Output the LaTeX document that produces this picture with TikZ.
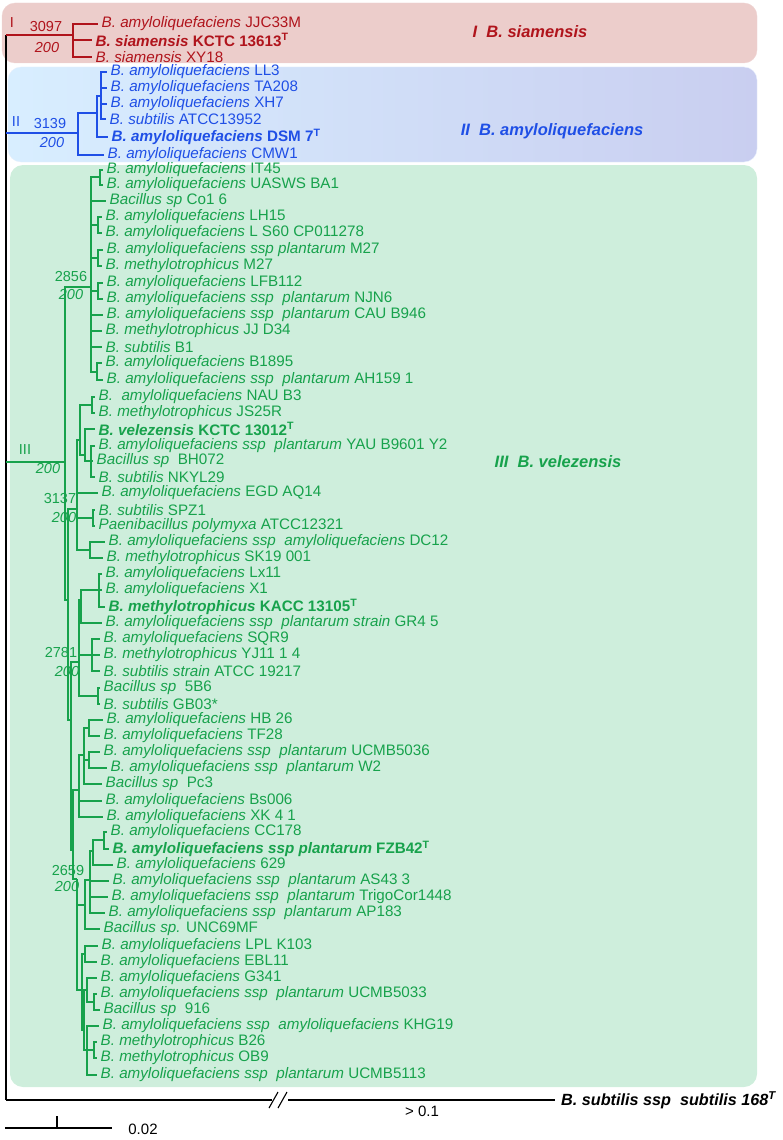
\documentclass[tikz,border=0pt]{standalone}
\usepackage{fontspec}
\setmainfont{Liberation Sans}
\definecolor{cR}{HTML}{B0141C}
\definecolor{cB}{HTML}{1F4FE6}
\definecolor{cG}{HTML}{17A24C}
\definecolor{fR}{HTML}{ECCDCB}
\definecolor{fG}{HTML}{CEEEDC}
\definecolor{fB1}{HTML}{D8EEFF}
\definecolor{fB2}{HTML}{C9CEF0}
\newcommand\dsp{\hspace{0.28em}}
\tikzset{
  lf/.style={anchor=west, inner xsep=3.5pt, inner ysep=0pt, font=\fontsize{15.2}{16}\selectfont},
  lr/.style={lf, text=cR}, lb/.style={lf, text=cB}, lgn/.style={lf, text=cG},
  er/.style={draw=cR, line width=1.3pt}, eb/.style={draw=cB, line width=1.3pt},
  eg/.style={draw=cG, line width=1.3pt}, ek/.style={draw=black, line width=1.3pt},
  bs/.style={inner sep=0pt, font=\fontsize{14.5}{15}\selectfont},
  gt/.style={inner sep=0pt, font=\fontsize{16.5}{18}\selectfont\bfseries\itshape},
}
\begin{document}
\begin{tikzpicture}[x=1pt,y=-1pt]
\useasboundingbox (0,0) rectangle (782,1140);
% boxes
\fill[fR, draw=fR!85!white, rounded corners=13pt] (2,3) rectangle (757,63);
\shade[left color=fB1, right color=fB2, rounded corners=13pt] (8,67) rectangle (757,162);
\draw[fB1!70!cB!25, rounded corners=13pt] (8,67) rectangle (757,162);
\fill[fG, rounded corners=13pt] (10,165) rectangle (757,1087);
% group titles
\node[gt, text=cR] (tI) at (530,32) {I\dsp\ B. siamensis};
\node[gt, text=cB] (tII) at (552,131) {II\dsp\ B. amyloliquefaciens};
\node[gt, text=cG] (tIII) at (558,462) {III\dsp\ B. velezensis};
% root
\coordinate (rt) at (6,35);
\coordinate (rb) at (6,1100);
\coordinate (r2) at (6,133);
\coordinate (r3) at (6,462);
\draw[ek] (rt) -- (rb);
% ---------- Group I
\coordinate (nI) at (73,35);
\node[lr] (r1) at (98,24) {\textit{B. amyloliquefaciens} JJC33M};
\node[lr] (r2l) at (92,40) {\textbf{\textit{B. siamensis} KCTC 13613\textsuperscript{T}}};
\node[lr] (r3l) at (92,57) {\textit{B. siamensis} XY18};
\draw[er] (rt) -- (nI);
\draw[er] (nI) |- (r1.west);
\draw[er] (nI) |- (r2l.west);
\draw[er] (nI) |- (r3l.west);
\node[bs, text=cR] (lI) at (12,23) {I};
\node[bs, text=cR] (bI1) at (46,27) {3097};
\node[bs, text=cR] (bI2) at (47,48) {\textit{200}};
% ---------- Group II
\coordinate (nII) at (78,133);
\coordinate (nII2) at (97,113);
\coordinate (nII3) at (101,96);
\node[lb] (b1) at (107,72) {\textit{B. amyloliquefaciens} LL3};
\node[lb] (b2) at (107,88) {\textit{B. amyloliquefaciens} TA208};
\node[lb] (b3) at (107,104) {\textit{B. amyloliquefaciens} XH7};
\node[lb] (b4) at (106,119) {\textit{B. subtilis} ATCC13952};
\node[lb] (b5) at (108,137) {\textbf{\textit{B. amyloliquefaciens} DSM 7\textsuperscript{T}}};
\node[lb] (b6) at (104,155) {\textit{B. amyloliquefaciens} CMW1};
\draw[eb] (r2) -- (nII);
\draw[eb] (nII) |- (nII2);
\draw[eb] (nII) |- (b6.west);
\draw[eb] (nII2) |- (nII3);
\draw[eb] (nII2) |- (b5.west);
\foreach \n in {b1,b2,b3,b4} \draw[eb] (nII3) |- (\n.west);
\node[bs, text=cB] (lII) at (16,122) {II};
\node[bs, text=cB] (bII1) at (50,124) {3139};
\node[bs, text=cB] (bII2) at (52,143) {\textit{200}};
% ---------- Group III
\coordinate (nIII) at (65,462);
\coordinate (nB) at (68,600);
\coordinate (nC) at (71,720);
\coordinate (nD) at (73,850);
\coordinate (c2856) at (91,287);
\coordinate (c3137) at (77,509);
\coordinate (c2781) at (79,662);
\coordinate (cHB) at (79,790);
\coordinate (c2659) at (77,879);
\draw[eg] (r3) -- (nIII);
\draw[eg] (nIII) |- (c2856);
\draw[eg] (nIII) |- (nB);
\draw[eg] (nB) |- (c3137);
\draw[eg] (nB) |- (nC);
\draw[eg] (nC) |- (c2781);
\draw[eg] (nC) |- (nD);
\draw[eg] (nD) |- (cHB);
\draw[eg] (nD) |- (c2659);
\node[bs, text=cG] (lIII) at (25,450) {III};
\node[bs, text=cG] (bIII) at (48,469) {\textit{200}};
\node[bs, text=cG] (k1a) at (71,277) {2856};
\node[bs, text=cG] (k1b) at (71,295) {\textit{200}};
\node[bs, text=cG] (k2a) at (60,499) {3137};
\node[bs, text=cG] (k2b) at (64,518) {\textit{200}};
\node[bs, text=cG] (k3a) at (61,653) {2781};
\node[bs, text=cG] (k3b) at (67,671) {\textit{200}};
\node[bs, text=cG] (k4a) at (68,870) {2659};
\node[bs, text=cG] (k4b) at (67,886) {\textit{200}};
% clade 2856
\coordinate (p1) at (100,177);
\coordinate (p2) at (98,225);
\coordinate (p3) at (98,258);
\coordinate (p4) at (98,291);
\coordinate (p5) at (97,372);
\node[lgn] (g10) at (103,170) {\textit{B. amyloliquefaciens} IT45};
\node[lgn] (g11) at (103,185) {\textit{B. amyloliquefaciens} UASWS BA1};
\node[lgn] (g12) at (106,201) {\textit{Bacillus sp} Co1 6};
\node[lgn] (g13) at (102,217) {\textit{B. amyloliquefaciens} LH15};
\node[lgn] (g14) at (102,233) {\textit{B. amyloliquefaciens} L S60 CP011278};
\node[lgn] (g15) at (103,250) {\textit{B. amyloliquefaciens ssp plantarum} M27};
\node[lgn] (g16) at (102,266) {\textit{B. methylotrophicus} M27};
\node[lgn] (g17) at (103,283) {\textit{B. amyloliquefaciens} LFB112};
\node[lgn] (g18) at (103,299) {\textit{B. amyloliquefaciens ssp\dsp\ plantarum} NJN6};
\node[lgn] (g19) at (103,315) {\textit{B. amyloliquefaciens ssp\dsp\ plantarum} CAU B946};
\node[lgn] (g20) at (102,331) {\textit{B. methylotrophicus} JJ D34};
\node[lgn] (g21) at (102,347) {\textit{B. subtilis} B1};
\node[lgn] (g22) at (102,363) {\textit{B. amyloliquefaciens} B1895};
\node[lgn] (g23) at (103,380) {\textit{B. amyloliquefaciens ssp\dsp\ plantarum} AH159 1};
\foreach \c in {p1,p2,p3,p4,p5} \draw[eg] (c2856) |- (\c);
\foreach \n in {g12,g19,g20,g21} \draw[eg] (c2856) |- (\n.west);
\foreach \n in {g10,g11} \draw[eg] (p1) |- (\n.west);
\foreach \n in {g13,g14} \draw[eg] (p2) |- (\n.west);
\foreach \n in {g15,g16} \draw[eg] (p3) |- (\n.west);
\foreach \n in {g17,g18} \draw[eg] (p4) |- (\n.west);
\foreach \n in {g22,g23} \draw[eg] (p5) |- (\n.west);
% clade 3137
\coordinate (cV) at (80,440);
\coordinate (pNAU) at (92,405);
\coordinate (pVel) at (85,455);
\coordinate (pYAU) at (91,461);
\coordinate (pSPZ) at (93,518);
\coordinate (pDC) at (90,550);
\node[lgn] (g24) at (95,397) {\textit{B.\dsp\ amyloliquefaciens} NAU B3};
\node[lgn] (g25) at (95,413) {\textit{B. methylotrophicus} JS25R};
\node[lgn] (g26) at (95,429) {\textbf{\textit{B. velezensis} KCTC 13012\textsuperscript{T}}};
\node[lgn] (g27) at (95,446) {\textit{B. amyloliquefaciens ssp\dsp\ plantarum} YAU B9601 Y2};
\node[lgn] (g28) at (93,461) {\textit{Bacillus sp}\dsp\ BH072};
\node[lgn] (g29) at (95,477) {\textit{B. subtilis} NKYL29};
\node[lgn] (g30) at (98,493) {\textit{B. amyloliquefaciens} EGD AQ14};
\node[lgn] (g31) at (95,510) {\textit{B. subtilis} SPZ1};
\node[lgn] (g32) at (95,526) {\textit{Paenibacillus polymyxa} ATCC12321};
\node[lgn] (g33) at (105,542) {\textit{B. amyloliquefaciens ssp\dsp\ amyloliquefaciens} DC12};
\node[lgn] (g34) at (103,558) {\textit{B. methylotrophicus} SK19 001};
\draw[eg] (c3137) |- (cV);
\draw[eg] (c3137) |- (g30.west);
\draw[eg] (c3137) |- (pSPZ);
\draw[eg] (c3137) |- (pDC);
\draw[eg] (cV) |- (pNAU);
\draw[eg] (cV) |- (pVel);
\draw[eg] (pVel) |- (g26.west);
\draw[eg] (pVel) |- (pYAU);
\foreach \n in {g24,g25} \draw[eg] (pNAU) |- (\n.west);
\foreach \n in {g27,g28,g29} \draw[eg] (pYAU) |- (\n.west);
\foreach \n in {g31,g32} \draw[eg] (pSPZ) |- (\n.west);
\foreach \n in {g33,g34} \draw[eg] (pDC) |- (\n.west);
% clade 2781
\coordinate (pLx) at (81,600);
\coordinate (pLx2) at (99,590);
\coordinate (pSQR) at (92,655);
\coordinate (p5B6) at (98,696);
\node[lgn] (g35) at (102,574) {\textit{B. amyloliquefaciens} Lx11};
\node[lgn] (g36) at (102,590) {\textit{B. amyloliquefaciens} X1};
\node[lgn] (g37) at (105,607) {\textbf{\textit{B. methylotrophicus} KACC 13105\textsuperscript{T}}};
\node[lgn] (g38) at (102,623) {\textit{B. amyloliquefaciens ssp\dsp\ plantarum strain} GR4 5};
\node[lgn] (g39) at (100,639) {\textit{B. amyloliquefaciens} SQR9};
\node[lgn] (g40) at (100,655) {\textit{B. methylotrophicus} YJ11 1 4};
\node[lgn] (g41) at (100,671) {\textit{B. subtilis strain} ATCC 19217};
\node[lgn] (g42) at (100,688) {\textit{Bacillus sp}\dsp\ 5B6};
\node[lgn] (g43) at (100,704) {\textit{B. subtilis} GB03*};
\draw[eg] (c2781) |- (pLx);
\draw[eg] (c2781) |- (pSQR);
\draw[eg] (c2781) |- (p5B6);
\draw[eg] (pLx) |- (pLx2);
\draw[eg] (pLx) |- (g38.west);
\foreach \n in {g35,g36,g37} \draw[eg] (pLx2) |- (\n.west);
\foreach \n in {g39,g40,g41} \draw[eg] (pSQR) |- (\n.west);
\foreach \n in {g42,g43} \draw[eg] (p5B6) |- (\n.west);
% clade HB
\coordinate (pHB1) at (84,755);
\coordinate (pHB) at (89,728);
\coordinate (pUC) at (89,760);
\node[lgn] (g44) at (103,720) {\textit{B. amyloliquefaciens} HB 26};
\node[lgn] (g45) at (100,736) {\textit{B. amyloliquefaciens} TF28};
\node[lgn] (g46) at (100,752) {\textit{B. amyloliquefaciens ssp\dsp\ plantarum} UCMB5036};
\node[lgn] (g47) at (107,768) {\textit{B. amyloliquefaciens ssp\dsp\ plantarum} W2};
\node[lgn] (g48) at (102,784) {\textit{Bacillus sp}\dsp\ Pc3};
\node[lgn] (g49) at (102,801) {\textit{B. amyloliquefaciens} Bs006};
\node[lgn] (g50) at (103,817) {\textit{B. amyloliquefaciens} XK 4 1};
\draw[eg] (cHB) |- (pHB1);
\draw[eg] (cHB) |- (g49.west);
\draw[eg] (cHB) |- (g50.west);
\draw[eg] (pHB1) |- (pHB);
\draw[eg] (pHB1) |- (pUC);
\draw[eg] (pHB1) |- (g48.west);
\foreach \n in {g44,g45} \draw[eg] (pHB) |- (\n.west);
\foreach \n in {g46,g47} \draw[eg] (pUC) |- (\n.west);
% clade 2659
\coordinate (pUNC) at (85,905);
\coordinate (pAS) at (90,880);
\coordinate (pCC) at (93,851);
\coordinate (pCC2) at (104,840);
\coordinate (pL2) at (82,990);
\coordinate (pLPL) at (85,954);
\coordinate (pLow) at (84,1030);
\coordinate (pG) at (87,990);
\coordinate (pU33) at (94,1002);
\coordinate (pK) at (87,1050);
\coordinate (pB26) at (94,1050);
\node[lgn] (g51) at (107,832) {\textit{B. amyloliquefaciens} CC178};
\node[lgn] (g52) at (109,849) {\textbf{\textit{B. amyloliquefaciens ssp plantarum} FZB42\textsuperscript{T}}};
\node[lgn] (g53) at (113,865) {\textit{B. amyloliquefaciens} 629};
\node[lgn] (g54) at (109,881) {\textit{B. amyloliquefaciens ssp\dsp\ plantarum} AS43 3};
\node[lgn] (g55) at (108,897) {\textit{B. amyloliquefaciens ssp\dsp\ plantarum} TrigoCor1448};
\node[lgn] (g56) at (105,913) {\textit{B. amyloliquefaciens ssp\dsp\ plantarum} AP183};
\node[lgn] (g57) at (100,929) {\textit{Bacillus sp.} UNC69MF};
\node[lgn] (g58) at (98,946) {\textit{B. amyloliquefaciens} LPL K103};
\node[lgn] (g59) at (97,962) {\textit{B. amyloliquefaciens} EBL11};
\node[lgn] (g60) at (97,978) {\textit{B. amyloliquefaciens} G341};
\node[lgn] (g61) at (97,994) {\textit{B. amyloliquefaciens ssp\dsp\ plantarum} UCMB5033};
\node[lgn] (g62) at (100,1010) {\textit{Bacillus sp}\dsp\ 916};
\node[lgn] (g63) at (99,1026) {\textit{B. amyloliquefaciens ssp\dsp\ amyloliquefaciens} KHG19};
\node[lgn] (g64) at (97,1042) {\textit{B. methylotrophicus} B26};
\node[lgn] (g65) at (97,1058) {\textit{B. methylotrophicus} OB9};
\node[lgn] (g66) at (97,1075) {\textit{B. amyloliquefaciens ssp\dsp\ plantarum} UCMB5113};
\draw[eg] (c2659) |- (pUNC);
\draw[eg] (c2659) |- (pL2);
\draw[eg] (pUNC) |- (pAS);
\draw[eg] (pUNC) |- (g57.west);
\draw[eg] (pAS) |- (pCC);
\foreach \n in {g54,g55,g56} \draw[eg] (pAS) |- (\n.west);
\draw[eg] (pCC) |- (pCC2);
\draw[eg] (pCC) |- (g53.west);
\foreach \n in {g51,g52} \draw[eg] (pCC2) |- (\n.west);
\draw[eg] (pL2) |- (pLPL);
\draw[eg] (pL2) |- (pLow);
\foreach \n in {g58,g59} \draw[eg] (pLPL) |- (\n.west);
\draw[eg] (pLow) |- (pG);
\draw[eg] (pLow) |- (pK);
\draw[eg] (pG) |- (g60.west);
\draw[eg] (pG) |- (pU33);
\foreach \n in {g61,g62} \draw[eg] (pU33) |- (\n.west);
\draw[eg] (pK) |- (g63.west);
\draw[eg] (pK) |- (pB26);
\draw[eg] (pK) |- (g66.west);
\foreach \n in {g64,g65} \draw[eg] (pB26) |- (\n.west);
% ---------- outgroup
\coordinate (brk1) at (272,1100);
\coordinate (brk2) at (288,1100);
\node[lf, inner xsep=6pt, font=\fontsize{16.2}{17}\selectfont\bfseries\itshape] (og) at (555,1100) {B. subtilis ssp\dsp\ subtilis 168\textsuperscript{T}};
\draw[ek] (rb) -- (brk1);
\draw[ek] (brk2) -- (og.west);
\draw[ek, line width=1.1pt] (269,1108) -- (278,1092);
\draw[ek, line width=1.1pt] (278,1108) -- (287,1092);
\node[bs, font=\fontsize{15}{16}\selectfont] (gt1) at (422,1111) {> 0.1};
% scale bar
\coordinate (s1) at (5,1128);
\coordinate (s2) at (112,1128);
\coordinate (s3) at (57,1128);
\coordinate (s4) at (57,1116);
\draw[ek, line width=1.1pt] (s1) -- (s2);
\draw[ek, line width=1.1pt] (s3) -- (s4);
\node[bs, font=\fontsize{15}{16}\selectfont] (sc) at (143,1129) {0.02};
\end{tikzpicture}
\end{document}
